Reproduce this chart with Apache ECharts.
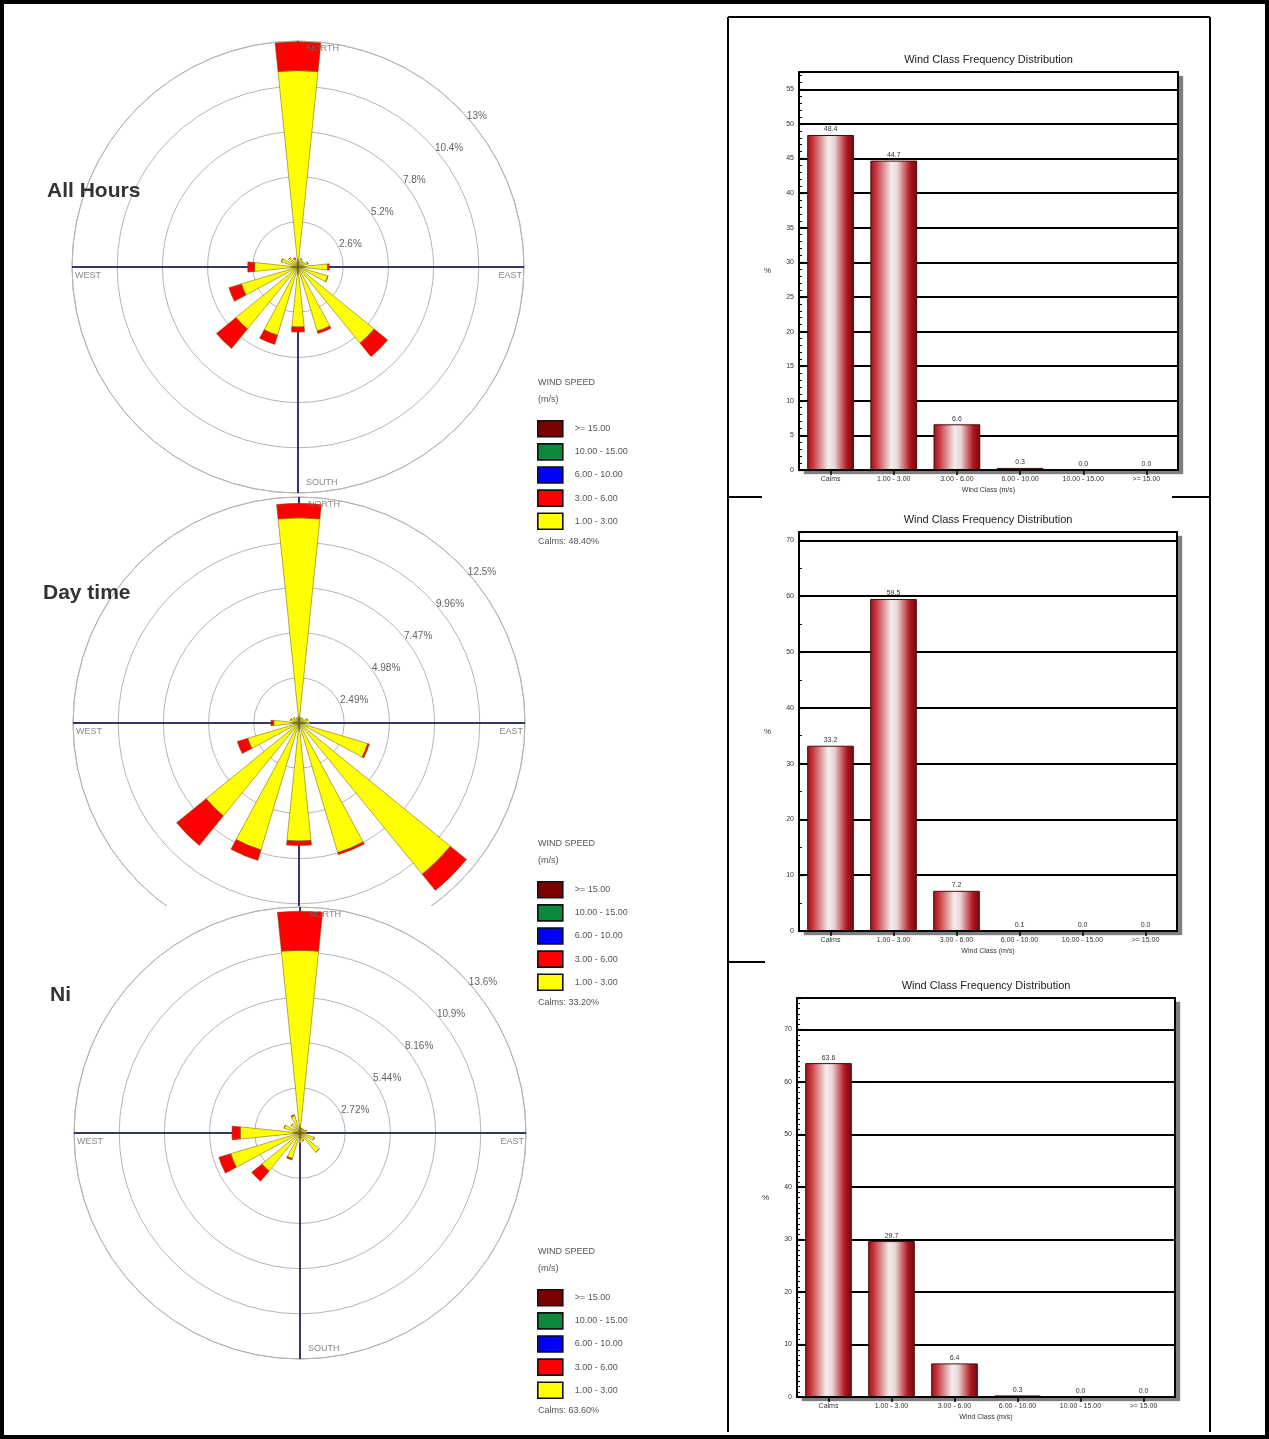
<!DOCTYPE html>
<html>
<head>
<meta charset="utf-8">
<title>Wind roses and wind class frequency distribution</title>
<script src="https://cdn.jsdelivr.net/npm/echarts/dist/echarts.min.js"></script>
<style>
  html, body { margin: 0; padding: 0; background: #fff; }
  #page { position: relative; width: 1269px; height: 1439px; overflow: hidden; }
  #main { position: absolute; left: 0; top: 0; width: 1269px; height: 1439px; }
  #ni { position: absolute; left: 40px; top: 906px; width: 496px; height: 472px; background: #fff; }
</style>
</head>
<body>
<div id="page">
  <div id="main"></div>
  <div id="ni"></div>
</div>
<script>
// ---- data -------------------------------------------------------------
const directions = ['N', 'NNE', 'NE', 'ENE', 'E', 'ESE', 'SE', 'SSE', 'S', 'SSW', 'SW', 'WSW', 'W', 'WNW', 'NW', 'NNW'];
const compassNames = ['NORTH', 'EAST', 'SOUTH', 'WEST'];
const speedClasses = ['1.00 - 3.00', '3.00 - 6.00', '6.00 - 10.00', '10.00 - 15.00', '>= 15.00'];
const legendOrder = ['>= 15.00', '10.00 - 15.00', '6.00 - 10.00', '3.00 - 6.00', '1.00 - 3.00'];

// frequency (%) per direction, 1.00-3.00 m/s and 3.00-6.00 m/s
const allHoursLow = [11.3, 0.5, 0.4, 0.6, 1.7, 1.8, 5.65, 3.85, 3.45, 4.1, 4.6, 3.4, 2.5, 1.0, 0.7, 0.5];
const allHoursMid = [1.65, 0, 0, 0, 0.1, 0, 1.0, 0.15, 0.3, 0.55, 1.45, 0.75, 0.4, 0, 0, 0.05];
const dayLow = [11.3, 0.3, 0.3, 0.5, 0.6, 3.95, 10.75, 7.45, 6.5, 7.3, 6.6, 2.95, 1.4, 0.5, 0.4, 0.3];
const dayMid = [0.8, 0, 0, 0, 0, 0.1, 1.15, 0.12, 0.25, 0.6, 2.1, 0.6, 0.15, 0, 0, 0];
const niLow = [11.0, 0.3, 0.3, 0.4, 0.4, 0.9, 1.5, 0.5, 0.6, 1.6, 2.95, 4.35, 3.6, 1.0, 0.7, 1.1];
const niMid = [2.35, 0, 0, 0, 0, 0, 0, 0, 0, 0.1, 0.8, 0.75, 0.5, 0, 0, 0.05];

// rose rings and their labels
const allHoursRings = [2.6, 5.2, 7.8, 10.4, 13];
const allHoursRingLabels = ['2.6%', '5.2%', '7.8%', '10.4%', '13%'];
const dayRings = [2.49, 4.98, 7.47, 9.96, 12.45];
const dayRingLabels = ['2.49%', '4.98%', '7.47%', '9.96%', '12.5%'];
const niRings = [2.72, 5.44, 8.16, 10.88, 13.6];
const niRingLabels = ['2.72%', '5.44%', '8.16%', '10.9%', '13.6%'];

// calms
const allHoursCalms = 'Calms: 48.40%';
const dayCalms = 'Calms: 33.20%';
const niCalms = 'Calms: 63.60%';

// wind class frequency distribution (%)
const windClasses = ['Calms', '1.00 - 3.00', '3.00 - 6.00', '6.00 - 10.00', '10.00 - 15.00', '>= 15.00'];
const freqAllHours = [48.4, 44.7, 6.6, 0.3, 0.0, 0.0];
const freqDay = [33.2, 59.5, 7.2, 0.1, 0.0, 0.0];
const freqNi = [63.6, 29.7, 6.4, 0.3, 0.0, 0.0];

// ---- styling ----------------------------------------------------------
const FONT = '"Liberation Sans", Arial, sans-serif';
const RING = '#b4b4b4';
const CROSS = '#36366e';
const ROSE_R = 226;
const classColors = {
  '1.00 - 3.00': '#ffff00',
  '3.00 - 6.00': '#ff0000',
  '6.00 - 10.00': '#0000ff',
  '10.00 - 15.00': '#0a8a3c',
  '>= 15.00': '#7a0000'
};

function newOption() {
  return { animation: false, backgroundColor: 'transparent',
    polar: [], angleAxis: [], radiusAxis: [], grid: [], xAxis: [], yAxis: [],
    series: [], legend: [], graphic: [] };
}

// one wind rose: a data polar (category directions) and an overlay polar
// (value angle 0-360) carrying the compass cross and the text labels
function addRose(o, center, rings, ringLabels, low, mid) {
  const p = o.polar.length;
  const maxR = rings[rings.length - 1];
  o.polar.push({ center: center, radius: ROSE_R }, { center: center, radius: ROSE_R });

  o.angleAxis.push({
    polarIndex: p, type: 'category', data: directions,
    startAngle: 90 + 180 / directions.length, clockwise: true,
    axisLine: { show: true, lineStyle: { color: RING, width: 1 } },
    axisTick: { show: false }, axisLabel: { show: false },
    splitLine: { show: false }, splitArea: { show: false }, z: 0
  }, {
    polarIndex: p + 1, type: 'value', min: 0, max: 360, interval: 90,
    startAngle: 90, clockwise: true,
    axisLine: { show: false }, axisTick: { show: false }, axisLabel: { show: false },
    splitLine: { show: true, lineStyle: { color: CROSS, width: 2 } },
    splitArea: { show: false }, z: 1
  });

  o.radiusAxis.push({
    polarIndex: p, type: 'value', min: 0, max: maxR, interval: rings[0],
    axisLine: { show: false }, axisTick: { show: false }, axisLabel: { show: false },
    splitLine: { show: true, lineStyle: { color: RING, width: 1 } }, splitArea: { show: false }, z: 0
  }, {
    polarIndex: p + 1, type: 'value', min: 0, max: maxR,
    axisLine: { show: false }, axisTick: { show: false }, axisLabel: { show: false },
    splitLine: { show: false }, splitArea: { show: false }
  });

  const classData = { '1.00 - 3.00': low, '3.00 - 6.00': mid };
  speedClasses.forEach(function (name) {
    o.series.push({
      type: 'bar', name: name, coordinateSystem: 'polar', polarIndex: p,
      stack: 'rose' + p, barWidth: '52%',
      data: classData[name] || [],
      itemStyle: { color: classColors[name], borderColor: 'rgba(110,90,10,0.75)', borderWidth: 0.7 },
      emphasis: { disabled: true }, z: 3
    });
  });

  // compass names
  const compassAngles = [0, 90, 180, 270];
  const compassLabel = [
    { position: 'right', distance: 9, offset: [0, 8] },
    { position: 'left', distance: 2, offset: [0, 9] },
    { position: 'right', distance: 8, offset: [0, -10] },
    { position: 'right', distance: 3, offset: [0, 9] }
  ];
  o.series.push({
    type: 'scatter', coordinateSystem: 'polar', polarIndex: p + 1,
    symbolSize: 0.1, itemStyle: { color: 'rgba(0,0,0,0)' }, silent: true, z: 5,
    label: { show: true, formatter: '{b}', fontFamily: FONT, fontSize: 9, color: '#6a6a6a' },
    data: compassNames.map(function (n, i) {
      return { name: n, value: [maxR, compassAngles[i]], label: compassLabel[i] };
    })
  });

  // ring percentages, laid along the north-east diagonal
  o.series.push({
    type: 'scatter', coordinateSystem: 'polar', polarIndex: p + 1,
    symbolSize: 0.1, itemStyle: { color: 'rgba(0,0,0,0)' }, silent: true, z: 5,
    label: {
      show: true, position: 'right', distance: 9, offset: [0, 9],
      fontFamily: FONT, fontSize: 10, color: '#3a3a3a',
      formatter: function (pr) { return ringLabels[pr.dataIndex]; }
    },
    data: rings.map(function (v) { return [v, 45]; })
  });
}

function text(x, y, str, font, fill, align) {
  return { type: 'text', x: x, y: y, z: 10, silent: true,
    style: { text: str, font: font, fill: fill || '#333', align: align || 'left', verticalAlign: 'middle' } };
}

function addLegend(o, top, calms) {
  o.legend.push({
    left: 537, top: top, padding: 0, orient: 'vertical', data: legendOrder, selectedMode: false,
    icon: 'rect', itemWidth: 25, itemHeight: 16, itemGap: 5.5,
    itemStyle: { borderColor: '#111', borderWidth: 1.6 },
    textStyle: { fontFamily: FONT, fontSize: 9, color: '#555', padding: [0, 0, 0, 7] }
  });
  o.graphic.push(
    text(538, top - 37, 'WIND SPEED', '9px ' + FONT, '#555'),
    text(538, top - 20, '(m/s)', '9px ' + FONT, '#555'),
    text(538, top + 122, calms, '9px ' + FONT, '#555')
  );
}

const barGradient = new echarts.graphic.LinearGradient(0, 0, 1, 0, [
  { offset: 0, color: '#9a1018' },
  { offset: 0.12, color: '#c7343b' },
  { offset: 0.45, color: '#f3ecec' },
  { offset: 0.58, color: '#ead6d7' },
  { offset: 0.85, color: '#b0161d' },
  { offset: 1, color: '#6e0a0e' }
]);

function addBarChart(o, box, yMax, yInterval, minorSplit, values) {
  const g = o.grid.length;
  // plot area with a drop shadow; the black frame is drawn on top
  o.grid.push({
    left: box[0], top: box[1], width: box[2], height: box[3],
    show: true, backgroundColor: '#fff', borderWidth: 0,
    shadowColor: 'rgba(0,0,0,0.5)', shadowOffsetX: 5, shadowOffsetY: 4, shadowBlur: 1,
    containLabel: false, outerBoundsMode: 'none'
  });
  o.xAxis.push({
    gridIndex: g, type: 'category', data: windClasses,
    axisLine: { show: true, lineStyle: { color: '#000', width: 2 } },
    axisTick: { show: true, alignWithLabel: true, length: 5, lineStyle: { color: '#000', width: 1.5 } },
    axisLabel: { interval: 0, fontFamily: FONT, fontSize: 7, color: '#333', margin: 6 },
    splitLine: { show: false },
    name: 'Wind Class (m/s)', nameLocation: 'middle', nameGap: 17,
    nameTextStyle: { fontFamily: FONT, fontSize: 7, color: '#333' }
  });
  o.yAxis.push({
    gridIndex: g, type: 'value', min: 0, max: yMax, interval: yInterval,
    axisLine: { show: true, lineStyle: { color: '#000', width: 2 } },
    axisTick: { show: true, inside: true, length: 5, lineStyle: { color: '#000', width: 1.2 } },
    minorTick: { show: true, splitNumber: minorSplit, length: 3, lineStyle: { color: '#000', width: 1 } },
    axisLabel: { fontFamily: FONT, fontSize: 7, color: '#333', margin: 5, showMaxLabel: false },
    splitLine: { show: true, lineStyle: { color: '#000', width: 2 } },
    minorSplitLine: { show: false },
    name: '%', nameLocation: 'middle', nameGap: 28, nameRotate: 0,
    nameTextStyle: { fontFamily: FONT, fontSize: 8, color: '#333' }
  });
  o.series.push({
    type: 'bar', name: 'Wind Class Frequency', xAxisIndex: g, yAxisIndex: g,
    data: values, barWidth: '74%',
    itemStyle: { color: barGradient, borderColor: '#4a0a0a', borderWidth: 1 },
    label: { show: true, position: 'top', distance: 2, fontFamily: FONT, fontSize: 7, color: '#333',
      formatter: function (pr) { return pr.value.toFixed(1); } },
    emphasis: { disabled: true }, z: 3
  });
  o.graphic.push(
    { type: 'rect', z: 15, silent: true, shape: { x: box[0], y: box[1], width: box[2], height: box[3] },
      style: { fill: 'none', stroke: '#000', lineWidth: 2 } },
    text(box[0] + box[2] / 2, box[1] - 12, 'Wind Class Frequency Distribution', '11px ' + FONT, '#222', 'center')
  );
}

function line(x1, y1, x2, y2, w) {
  return { type: 'line', z: 20, silent: true, shape: { x1: x1, y1: y1, x2: x2, y2: y2 },
    style: { stroke: '#000', lineWidth: w || 2 } };
}

// ---- main page ----------------------------------------------------------
const mainOpt = newOption();
addRose(mainOpt, [298, 267], allHoursRings, allHoursRingLabels, allHoursLow, allHoursMid);
addRose(mainOpt, [299, 723], dayRings, dayRingLabels, dayLow, dayMid);
addLegend(mainOpt, 420, allHoursCalms);
addLegend(mainOpt, 881, dayCalms);
addLegend(mainOpt, 1289, niCalms);
mainOpt.graphic.push(
  text(47, 191, 'All Hours', 'bold 21px ' + FONT, '#333'),
  text(43, 593, 'Day time', 'bold 21px ' + FONT, '#333')
);

addBarChart(mainOpt, [799, 72, 379, 398], 57.5, 5, 5, freqAllHours);
addBarChart(mainOpt, [799, 532, 378, 399], 71.5, 10, 2, freqDay);
addBarChart(mainOpt, [797, 998, 378, 399], 76, 10, 10, freqNi);

// page frame and panel box
mainOpt.graphic.push(
  { type: 'rect', z: 20, silent: true, shape: { x: 2, y: 2, width: 1265, height: 1435 },
    style: { fill: 'none', stroke: '#000', lineWidth: 4 } },
  line(728, 17, 1210, 17),
  line(728, 17, 728, 1432),
  line(1210, 17, 1210, 1432),
  line(728, 497, 762, 497),
  line(1172, 497, 1210, 497),
  line(728, 962, 765, 962)
);

const mainChart = echarts.init(document.getElementById('main'), null, { renderer: 'canvas' });
mainChart.setOption(mainOpt);

// ---- night rose (drawn on its own white panel over the day-time rose) ----
const niOpt = newOption();
addRose(niOpt, [260, 227], niRings, niRingLabels, niLow, niMid);
niOpt.graphic.push(text(10, 89, 'Ni', 'bold 21px ' + FONT, '#333'));
delete niOpt.legend;
const niChart = echarts.init(document.getElementById('ni'), null, { renderer: 'canvas' });
niChart.setOption(niOpt);
</script>
</body>
</html>
